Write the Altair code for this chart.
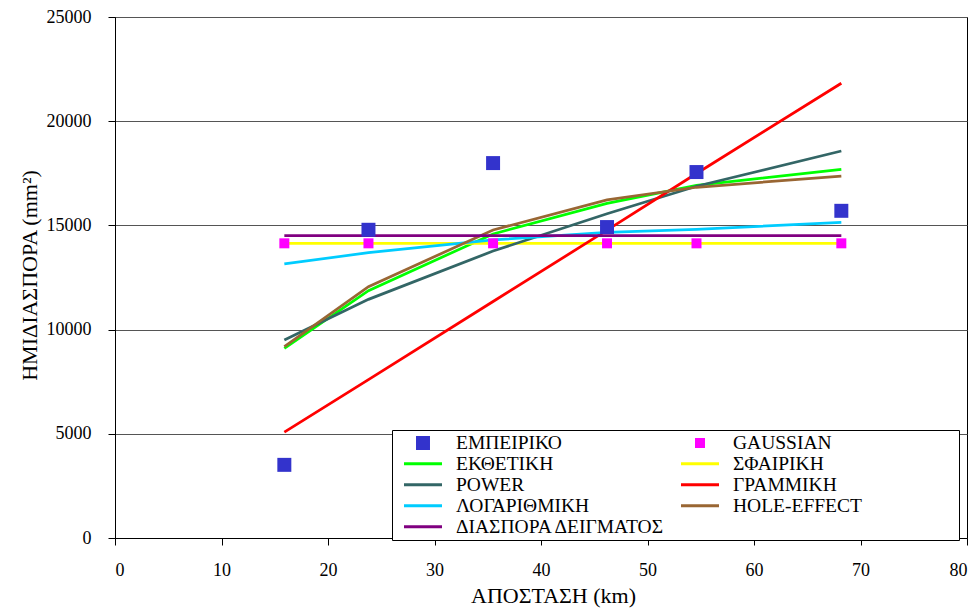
import altair as alt
import pandas as pd

# ---------------- data ----------------
distance = [15.9, 23.8, 35.5, 46.2, 54.6, 68.2]

empirical = [3510, 14790, 17990, 14920, 17560, 15700]
gaussian = [14140, 14140, 14140, 14140, 14140, 14140]
exponential = [9100, 11870, 14590, 16060, 16920, 17690]
spherical = [14140, 14140, 14140, 14140, 14140, 14140]
power = [9500, 11450, 13770, 15560, 16880, 18570]
linear = [5080, 7600, 11350, 14770, 17490, 21820]
logarithmic = [13150, 13690, 14300, 14670, 14810, 15150]
hole_effect = [9180, 12060, 14780, 16220, 16830, 17370]
sample_var = [14505, 14505, 14505, 14505, 14505, 14505]

series_names = ["ΕΜΠΕΙΡΙΚΟ", "GAUSSIAN", "ΕΚΘΕΤΙΚΗ", "ΣΦΑΙΡΙΚΗ", "POWER",
                "ΓΡΑΜΜΙΚΗ", "ΛΟΓΑΡΙΘΜΙΚΗ", "HOLE-EFFECT", "ΔΙΑΣΠΟΡΑ ΔΕΙΓΜΑΤΟΣ"]
series_colors = ["#3333CC", "#FF00FF", "#00FF00", "#FFFF00", "#336666",
                 "#FF0000", "#00CCFF", "#996633", "#800080"]

x_ticks = [0, 10, 20, 30, 40, 50, 60, 70, 80]
y_ticks = [0, 5000, 10000, 15000, 20000, 25000]

# shapes: squares for the point series, thin bars for line series (legend)
SQ_BIG = "M-0.368,-0.368H0.368V0.368H-0.368Z"
SQ_SMALL = "M-0.263,-0.263H0.263V0.263H-0.263Z"
BAR = "M-1,-0.079H1V0.079H-1Z"
series_shapes = [SQ_BIG, SQ_SMALL, BAR, BAR, BAR, BAR, BAR, BAR, BAR]

point_series = {"ΕΜΠΕΙΡΙΚΟ": empirical, "GAUSSIAN": gaussian}
line_series = {
    "ΕΚΘΕΤΙΚΗ": exponential,
    "ΣΦΑΙΡΙΚΗ": spherical,
    "POWER": power,
    "ΓΡΑΜΜΙΚΗ": linear,
    "ΛΟΓΑΡΙΘΜΙΚΗ": logarithmic,
    "HOLE-EFFECT": hole_effect,
    "ΔΙΑΣΠΟΡΑ ΔΕΙΓΜΑΤΟΣ": sample_var,
}

rows_pts = [{"series": k, "x": xv, "y": yv}
            for k, vals in point_series.items() for xv, yv in zip(distance, vals)]
rows_lines = [{"series": k, "x": xv, "y": yv, "ord": i}
              for k, vals in line_series.items() for i, (xv, yv) in enumerate(zip(distance, vals))]
df_pts = pd.DataFrame(rows_pts)
df_lines = pd.DataFrame(rows_lines)

FONT = "Liberation Serif"

legend = alt.Legend(
    title="\u00a0", titleOrient="right", titlePadding=94, titleFontSize=4,
    orient="none", legendX=277, legendY=413, direction="horizontal",
    columns=2, columnPadding=6, rowPadding=0,
    clipHeight=19.5, symbolSize=1444, symbolStrokeWidth=0,
    symbolOffset=9, labelOffset=14, labelLimit=400,
    labelFont=FONT, labelFontSize=19.5, labelColor="black",
    strokeColor="black", fillColor="white", padding=3,
)

color_scale = alt.Scale(domain=series_names, range=series_colors)
shape_scale = alt.Scale(domain=series_names, range=series_shapes)

x_enc = alt.X("x:Q", scale=alt.Scale(domain=[0, 80], nice=False),
              axis=alt.Axis(values=x_ticks, title="ΑΠΟΣΤΑΣΗ (km)", grid=False,
                            tickSize=7, labelPadding=16, titleX=438, titleY=64,
                            labelFont=FONT, labelFontSize=18, titleFont=FONT,
                            titleBaseline="alphabetic", titleAlign="center"))
y_enc = alt.Y("y:Q", scale=alt.Scale(domain=[0, 25000], nice=False),
              axis=alt.Axis(values=y_ticks, format="d", title="ΗΜΙΔΙΑΣΠΟΡΑ (mm²)", grid=True,
                            tickSize=7, labelPadding=17, titleX=-79, titleY=258,
                            labelFont=FONT, labelFontSize=18, titleFont=FONT,
                            titleBaseline="alphabetic", titleAlign="center", titleAngle=270))

lines = alt.Chart(df_lines).mark_line(strokeWidth=2.75).encode(
    x=x_enc, y=y_enc,
    color=alt.Color("series:N", scale=color_scale, legend=legend),
    order="ord:Q",
)

points = alt.Chart(df_pts).mark_point(filled=True, opacity=1, size=1444, strokeWidth=0).encode(
    x=x_enc, y=y_enc,
    color=alt.Color("series:N", scale=color_scale, legend=legend),
    shape=alt.Shape("series:N", scale=shape_scale, legend=legend),
)

chart = alt.layer(lines, points).properties(
    width=852, height=521,
    autosize=alt.AutoSizeParams(type="none"),
    padding={"left": 107, "top": 9, "right": 5, "bottom": 70},
).configure(
    font=FONT,
    style={"guide-label": {"font": FONT}, "guide-title": {"font": FONT}},
).configure_view(
    stroke="black", strokeWidth=1,
).configure_axis(
    domainColor="black", tickColor="black", gridColor="#555555", gridWidth=1,
    labelFont=FONT, labelFontSize=18, labelColor="black",
    titleFont=FONT, titleFontSize=22, titleFontWeight="normal", titleColor="black",
).configure_legend(
    labelFont=FONT,
)

chart.save("out.html", embed_options={"renderer": "svg", "actions": False})
